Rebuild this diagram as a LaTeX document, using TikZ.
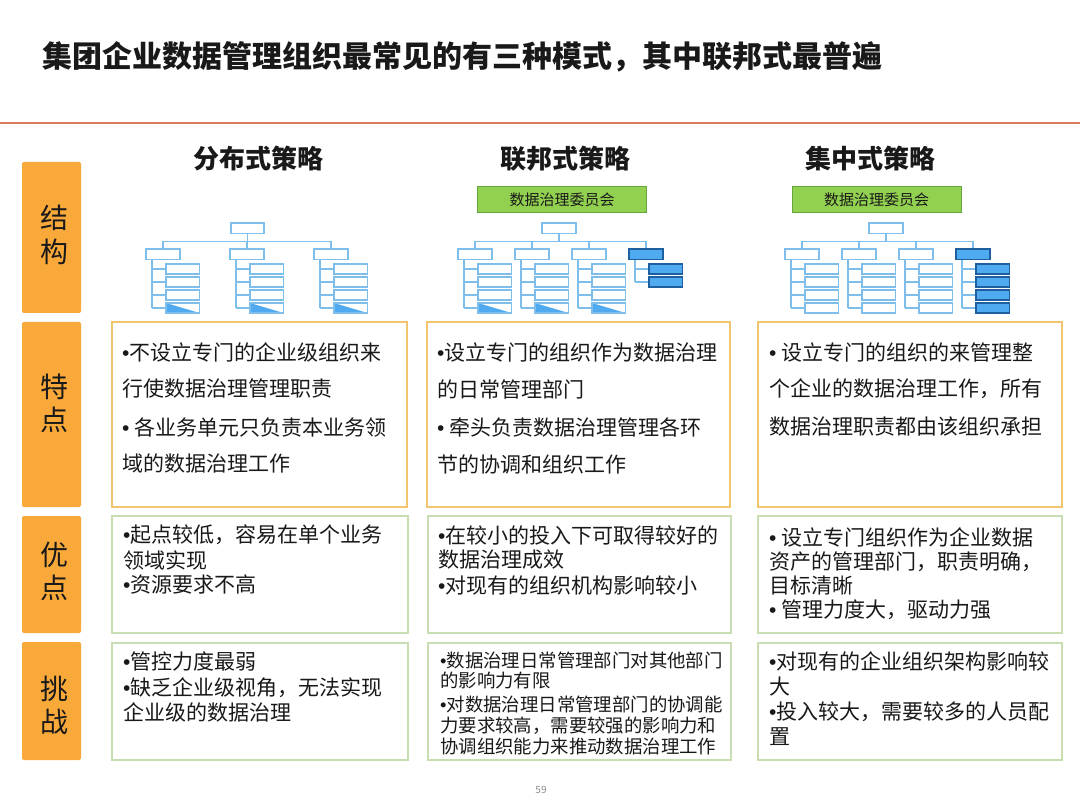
\documentclass[tikz,border=0pt]{standalone}
\usepackage{fontspec}
\setmainfont{Noto Sans CJK SC}
\newfontfamily\bulfont{Liberation Sans}
\newcommand\bl{{\bulfont •}}
\definecolor{lblue}{RGB}{125,190,235}
\definecolor{fblue}{RGB}{80,170,240}
\definecolor{dblue}{RGB}{30,95,160}
\definecolor{orng}{RGB}{248,169,58}
\definecolor{rulec}{RGB}{214,124,88}
\definecolor{oborder}{RGB}{242,196,110}
\definecolor{gborder}{RGB}{200,222,176}
\definecolor{cgreen}{RGB}{146,208,80}
\definecolor{cgreenb}{RGB}{100,165,60}
\definecolor{ink}{RGB}{25,25,25}
\tikzset{
  lbl/.style={fill=orng, rounded corners=2pt},
  lblt/.style={inner sep=0pt, text=ink, font=\fontsize{28}{28}\selectfont},
  head/.style={inner sep=0pt, text=ink, font=\fontsize{26}{26}\selectfont\bfseries},
  obox/.style={draw=oborder, line width=1.3pt, fill=white},
  gbox/.style={draw=gborder, line width=1.3pt, fill=white},
  tx/.style={anchor=west, inner sep=0pt, text=ink, font=\fontsize{21}{21}\selectfont},
  txs/.style={anchor=west, inner sep=0pt, text=ink, font=\fontsize{18.4}{18.4}\selectfont},
  ln/.style={draw=lblue, line width=1.2pt},
  lb/.style={draw=lblue, line width=1.7pt, fill=white},
  fb/.style={draw=dblue, line width=1.7pt, fill=fblue},
  tri/.style={fill=fblue},
  comm/.style={draw=cgreenb, line width=1pt, fill=cgreen, minimum width=169pt, minimum height=26pt, inner sep=0pt, font=\fontsize{15}{15}\selectfont, text=ink},
}
\newcommand\orggrp[5]{% #1 left x, #2 nsub, #3 group box style, #4 sub box style, #5 triangle
  \draw[ln] (#1+6,259.5) -- (#1+6,{264+13*(#2-1)+5});
  \foreach \k in {1,...,#2} {
    \draw[ln] (#1+6,{264+13*(\k-1)+5}) -- (#1+20,{264+13*(\k-1)+5});
    \draw[#4] (#1+20,{264+13*(\k-1)}) rectangle ++(33.5,10);
  }
  \ifnum#5=1
    \fill[tri] (#1+20,303) -- (#1+20,313) -- (#1+53.5,313) -- cycle;
    \draw[lb, fill=none] (#1+20,303) rectangle ++(33.5,10);
  \fi
  \draw[#3] (#1,249) rectangle ++(34,10.5);
}
\begin{document}
\begin{tikzpicture}[x=1pt,y=-1pt]
\useasboundingbox (0,0) rectangle (1080,810);
\fill[white] (0,0) rectangle (1080,810);

% title and rule
\node[anchor=west, inner sep=0pt, text=ink, font=\fontsize{30}{30}\selectfont\bfseries] (title) at (42,57) {集团企业数据管理组织最常见的有三种模式，其中联邦式最普遍};
\draw[rulec, line width=1.5pt] (0,123) -- (1080,123);

% row labels
\fill[lbl] (22,162) rectangle (81,313);
\fill[lbl] (22,322) rectangle (81,507);
\fill[lbl] (22,516) rectangle (81,633);
\fill[lbl] (22,642) rectangle (81,760);
\node[lblt] (l1a) at (54,218) {结};
\node[lblt] (l1b) at (54,252) {构};
\node[lblt] (l2a) at (54,387) {特};
\node[lblt] (l2b) at (54,420) {点};
\node[lblt] (l3a) at (54,555) {优};
\node[lblt] (l3b) at (54,588) {点};
\node[lblt] (l4a) at (54,689) {挑};
\node[lblt] (l4b) at (54,722) {战};

% column heads
\node[head] (h1) at (258,159) {分布式策略};
\node[head] (h2) at (565,159) {联邦式策略};
\node[head] (h3) at (870,159) {集中式策略};

% committees
\node[comm] (cm2) at (562,200) {数据治理委员会};
\node[comm] (cm3) at (876.5,200) {数据治理委员会};

% org chart 1
\draw[lb] (231,223) rectangle ++(33,10.5);
\draw[ln] (247.5,233.5) -- (247.5,241.5);
\draw[ln] (163,241.5) -- (331,241.5);
\foreach \g in {146,230,314} { \draw[ln] (\g+17,241.5) -- (\g+17,249); }
\orggrp{146}{4}{lb}{lb}{1}
\orggrp{230}{4}{lb}{lb}{1}
\orggrp{314}{4}{lb}{lb}{1}

% org chart 2
\draw[lb] (542,223) rectangle ++(34,10.5);
\draw[ln] (559,233.5) -- (559,241.5);
\draw[ln] (475,241.5) -- (646,241.5);
\foreach \g in {458,515,572,629} { \draw[ln] (\g+17,241.5) -- (\g+17,249); }
\orggrp{458}{4}{lb}{lb}{1}
\orggrp{515}{4}{lb}{lb}{1}
\orggrp{572}{4}{lb}{lb}{1}
\orggrp{629}{2}{fb}{fb}{0}

% org chart 3
\draw[lb] (869,223) rectangle ++(34,10.5);
\draw[ln] (886,233.5) -- (886,241.5);
\draw[ln] (802,241.5) -- (973,241.5);
\foreach \g in {785,842,899,956} { \draw[ln] (\g+17,241.5) -- (\g+17,249); }
\orggrp{785}{4}{lb}{lb}{0}
\orggrp{842}{4}{lb}{lb}{0}
\orggrp{899}{4}{lb}{lb}{0}
\orggrp{956}{4}{fb}{fb}{0}

% boxes
\draw[obox] (112,322) rectangle (407,507);
\draw[obox] (427,322) rectangle (730,507);
\draw[obox] (758,322) rectangle (1062,507);
\draw[gbox] (112,516) rectangle (408,633);
\draw[gbox] (428,516) rectangle (731,633);
\draw[gbox] (758,516) rectangle (1062,633);
\draw[gbox] (112,643) rectangle (408,760);
\draw[gbox] (428,643) rectangle (731,760);
\draw[gbox] (758,643) rectangle (1062,760);

% features
\foreach \yy/\s [count=\i] in {352/{\bl 不设立专门的企业级组织来}, 389/{行使数据治理管理职责}, 427/{\bl{} 各业务单元只负责本业务领}, 464/{域的数据治理工作}}
  \node[tx] (fa\i) at (122,\yy) {\s};
\foreach \yy/\s [count=\i] in {352/{\bl 设立专门的组织作为数据治理}, 389/{的日常管理部门}, 427/{\bl{} 牵头负责数据治理管理各环}, 464/{节的协调和组织工作}}
  \node[tx] (fb\i) at (437,\yy) {\s};
\foreach \yy/\s [count=\i] in {352/{\bl{} 设立专门的组织的来管理整}, 389/{个企业的数据治理工作，所有}, 427/{数据治理职责都由该组织承担}}
  \node[tx] (fc\i) at (769,\yy) {\s};

% advantages
\foreach \yy/\s [count=\i] in {535/{\bl 起点较低，容易在单个业务}, 560/{领域实现}, 585/{\bl 资源要求不高}}
  \node[tx] (aa\i) at (123,\yy) {\s};
\foreach \yy/\s [count=\i] in {535/{\bl 在较小的投入下可取得较好的}, 560/{数据治理成效}, 585/{\bl 对现有的组织机构影响较小}}
  \node[tx] (ab\i) at (438,\yy) {\s};
\foreach \yy/\s [count=\i] in {537/{\bl{} 设立专门组织作为企业数据}, 562/{资产的管理部门，职责明确，}, 586/{目标清晰}, 610/{\bl{} 管理力度大，驱动力强}}
  \node[tx] (ac\i) at (769,\yy) {\s};

% challenges
\foreach \yy/\s [count=\i] in {662/{\bl 管控力度最弱}, 688/{\bl 缺乏企业级视角，无法实现}, 712/{企业级的数据治理}}
  \node[tx] (ca\i) at (123,\yy) {\s};
\foreach \yy/\s [count=\i] in {660/{\bl 数据治理日常管理部门对其他部门}, 681/{的影响力有限}, 704/{\bl 对数据治理日常管理部门的协调能}, 726/{力要求较高，需要较强的影响力和}, 747/{协调组织能力来推动数据治理工作}}
  \node[txs] (cb\i) at (440,\yy) {\s};
\foreach \yy/\s [count=\i] in {661/{\bl 对现有的企业组织架构影响较}, 687/{大}, 712/{\bl 投入较大，需要较多的人员配}, 737/{置}}
  \node[tx] (cc\i) at (769,\yy) {\s};

% page number
\node[inner sep=0pt, text=black!45, font=\fontsize{10}{10}\selectfont] (pg) at (541,790) {59};
\end{tikzpicture}
\end{document}
